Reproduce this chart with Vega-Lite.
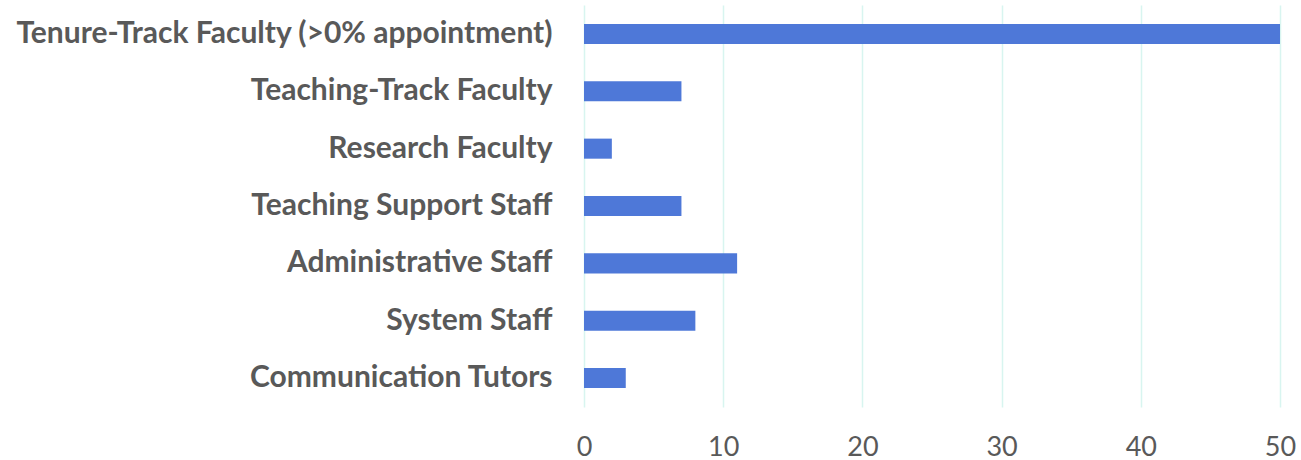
{
  "$schema": "https://vega.github.io/schema/vega-lite/v6.json",
  "width": 696,
  "height": 402,
  "autosize": {"type": "none"},
  "padding": {"left": 584, "top": 5, "right": 21, "bottom": 53},
  "background": "white",
  "data": {
    "values": [
      {"category": "Tenure-Track Faculty (>0% appointment)", "count": 50},
      {"category": "Teaching-Track Faculty", "count": 7},
      {"category": "Research Faculty", "count": 2},
      {"category": "Teaching Support Staff", "count": 7},
      {"category": "Administrative Staff", "count": 11},
      {"category": "System Staff", "count": 8},
      {"category": "Communication Tutors", "count": 3}
    ]
  },
  "mark": {"type": "bar", "color": "#4e78d8"},
  "encoding": {
    "y": {
      "field": "category",
      "type": "nominal",
      "sort": null,
      "scale": {"paddingInner": 0.65, "paddingOuter": 0.33},
      "axis": {
        "title": null,
        "domain": false,
        "ticks": false,
        "labelPadding": 32,
        "labelFont": "Lato",
        "labelFontWeight": "bold",
        "labelFontSize": 30,
        "labelColor": "#595959",
        "labelLimit": 650
      }
    },
    "x": {
      "field": "count",
      "type": "quantitative",
      "scale": {"domain": [0, 50], "nice": false},
      "axis": {
        "title": null,
        "values": [0, 10, 20, 30, 40, 50],
        "domain": false,
        "ticks": false,
        "grid": true,
        "gridColor": "#d8f5f0",
        "gridWidth": 1.5,
        "labelFlush": false,
        "labelOverlap": false,
        "labelPadding": 27,
        "labelFont": "Lato",
        "labelFontSize": 27,
        "labelColor": "#595959"
      }
    }
  },
  "config": {"view": {"stroke": null}}
}
